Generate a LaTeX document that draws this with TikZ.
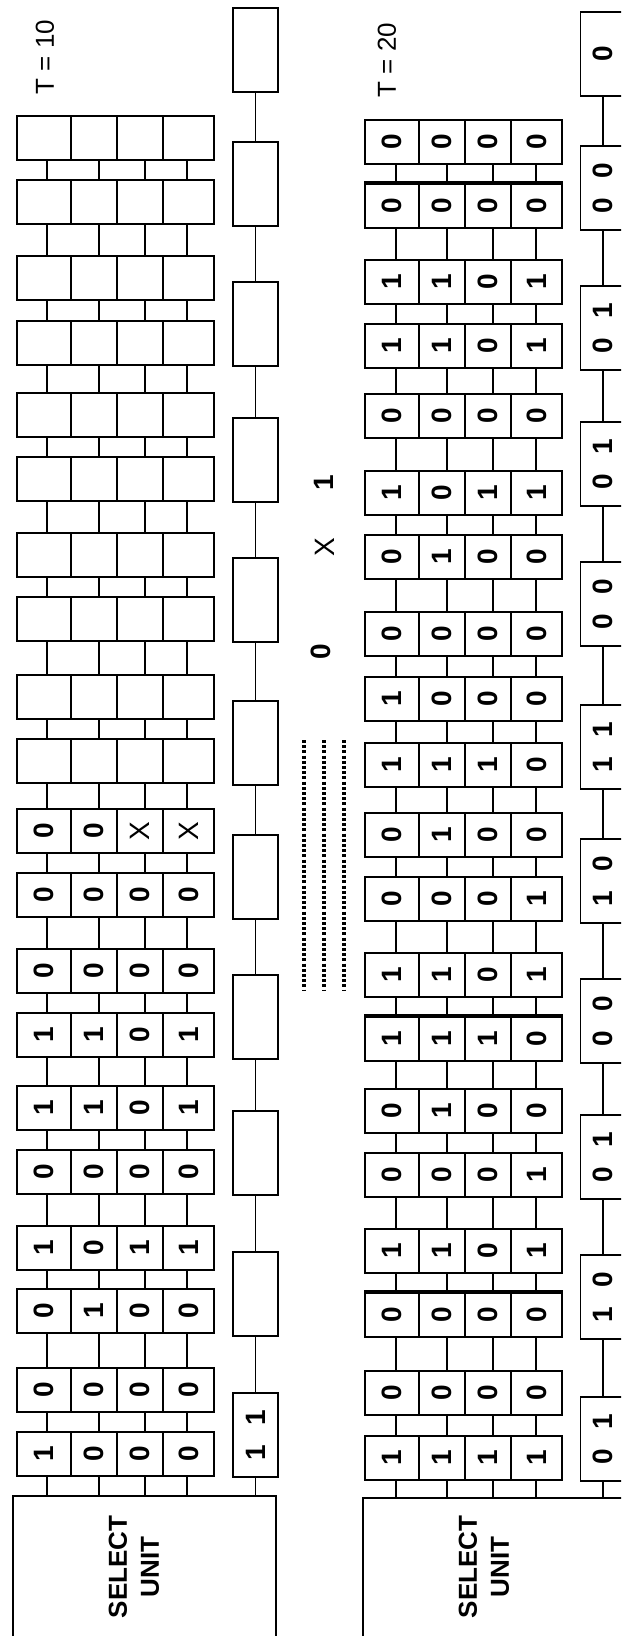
\documentclass[tikz,border=0pt]{standalone}
\usepackage{fontspec}
\usepackage{graphicx}
\newfontfamily\arialfont{Liberation Sans}
\usetikzlibrary{calc}

% cell text: n = empty cell, X in normal weight
\newcommand{\bit}[1]{\if n#1\else\rotatebox{90}{\if X#1\mdseries\fi#1}\fi}

\tikzset{
    cell/.style={draw, line width=0.9pt, inner sep=0pt, minimum height=22pt,
        font=\arialfont\bfseries\fontsize{14}{14}\selectfont},
    busbox/.style={draw, line width=0.9pt, inner sep=0pt, minimum width=22.5pt, minimum height=42pt,
        font={\arialfont\bfseries\fontsize{14}{14}\selectfont\spaceskip=0.7em\relax}},
    unitbox/.style={draw, line width=0.9pt, minimum width=131.5pt, minimum height=100pt},
    unittext/.style={rotate=90, align=center, font=\arialfont\bfseries\fontsize{13}{16}\selectfont},
    tag/.style={rotate=90, inner sep=0pt, font=\arialfont\fontsize{13}{13}\selectfont},
    link/.style={line width=0.9pt},
    heavy/.style={line width=2.2pt},
    dotline/.style={line width=1.8pt, dash pattern=on 1.5pt off 1.1pt}
}

\begin{document}
\begin{tikzpicture}[x=0.5pt, y=-0.5pt]
    \useasboundingbox (0,0) rectangle (621,1636);
    \fill[white] (0,0) rectangle (621,1636);
    \clip (0,0) rectangle (621,1636);

    % ---------------- T = 10 ----------------
    \node[tag] (T10) at (45,57) {T = 10};

    % cell groups
    \foreach \gy/\row [count=\g] in {116/{n,n,n,n}, 180/{n,n,n,n}, 256/{n,n,n,n}, 321/{n,n,n,n},
        393/{n,n,n,n}, 457/{n,n,n,n}, 533/{n,n,n,n}, 597/{n,n,n,n}, 675/{n,n,n,n}, 739/{n,n,n,n},
        809/{0,0,X,X}, 873/{0,0,0,0}, 949/{0,0,0,0}, 1013/{1,1,0,1}, 1086/{1,1,0,1},
        1150/{0,0,0,0}, 1226/{1,0,1,1}, 1289/{0,1,0,0}, 1368/{0,0,0,0}, 1432/{1,0,0,0}}
        \foreach \v [count=\c] in \row {
            \pgfmathsetmacro\cx{{44,94,140,188.5}[\c-1]}
            \pgfmathsetmacro\cw{{27,23,23,25.5}[\c-1]}
            \node[cell, minimum width=\cw pt] (L-\g-\c) at (\cx,\gy+22) {\bit{\v}};
        }
    \foreach \g [evaluate=\g as \gn using int(\g+1)] in {1,...,19}
        \foreach \c in {1,...,4} {
            \pgfmathsetmacro\dx{{1.5,2.5,2.5,-0.75}[\c-1]}
            \draw[link] ([xshift=\dx pt]L-\g-\c.south) -- ([xshift=\dx pt]L-\gn-\c.north);
        }

    % bus
    \foreach \by/\bv [count=\b] in {8/n, 142/n, 282/n, 418/n, 558/n, 701/n, 835/n, 975/n,
        1111/n, 1252/n, 1393/{1 1}}
        \node[busbox] (LB-\b) at (255.5,\by+42) {\bit{\bv}};
    \foreach \b [evaluate=\b as \bn using int(\b+1)] in {1,...,10}
        \draw[link] (LB-\b.south) -- (LB-\bn.north);

    % select unit
    \node[unitbox] (LU) at (144.5,1596) {};
    \node[unittext] (LUtext) at (134,1567) {SELECT\\UNIT};
    \foreach \c in {1,...,4} {
        \pgfmathsetmacro\dx{{1.5,2.5,2.5,-0.75}[\c-1]}
        \draw[link] ([xshift=\dx pt]L-20-\c.south) -- ([xshift=\dx pt]L-20-\c.south |- LU.north);
    }
    \draw[link] (LB-11.south) -- (LB-11.south |- LU.north);

    % ---------------- between ----------------
    \node[tag, font=\arialfont\bfseries\fontsize{14}{14}\selectfont] (mid1) at (324,483) {1};
    \node[tag, font=\arialfont\fontsize{14}{14}\selectfont] (midX) at (325,547) {X};
    \node[tag, font=\arialfont\bfseries\fontsize{14}{14}\selectfont] (mid0) at (321,652) {0};
    \foreach \dx in {304,324,344}
        \draw[dotline] (\dx,740) -- (\dx,991);

    % ---------------- T = 20 ----------------
    \node[tag] (T20) at (387,60) {T = 20};

    % cell groups
    \foreach \gy/\row [count=\g] in {120/{0,0,0,0}, 184/{0,0,0,0}, 260/{1,1,0,1}, 324/{1,1,0,1},
        394/{0,0,0,0}, 471/{1,0,1,1}, 535/{0,1,0,0}, 612/{0,0,0,0}, 677/{1,0,0,0}, 743/{1,1,1,0},
        813/{0,1,0,0}, 877/{0,0,0,1}, 953/{1,1,0,1}, 1017/{1,1,1,0}, 1089/{0,1,0,0},
        1153/{0,0,0,1}, 1229/{1,1,0,1}, 1293/{0,0,0,0}, 1371/{0,0,0,0}, 1436/{1,1,1,1}}
        \foreach \v [count=\c] in \row {
            \pgfmathsetmacro\cx{{392,442,488,536.5}[\c-1]}
            \pgfmathsetmacro\cw{{27,23,23,25.5}[\c-1]}
            \node[cell, minimum width=\cw pt] (R-\g-\c) at (\cx,\gy+22) {\bit{\v}};
        }
    \foreach \g [evaluate=\g as \gn using int(\g+1)] in {1,...,19}
        \foreach \c in {1,...,4} {
            \pgfmathsetmacro\dx{{2,2.5,2.5,-0.25}[\c-1]}
            \draw[link] ([xshift=\dx pt]R-\g-\c.south) -- ([xshift=\dx pt]R-\gn-\c.north);
        }

    % heavy borders
    \foreach \g in {2,14,18}
        \draw[heavy] (R-\g-1.north west) -- (R-\g-4.north east);

    % bus
    \foreach \by/\bv [count=\b] in {12/0, 146/{0 0}, 286/{0 1}, 422/{0 1}, 562/{0 0}, 705/{1 1},
        839/{1 0}, 979/{0 0}, 1115/{0 1}, 1255/{1 0}, 1397/{0 1}}
        \node[busbox] (RB-\b) at (603,\by+42) {\bit{\bv}};
    \foreach \b [evaluate=\b as \bn using int(\b+1)] in {1,...,10}
        \draw[link] (RB-\b.south) -- (RB-\bn.north);

    % select unit
    \node[unitbox] (RU) at (494.5,1598) {};
    \node[unittext] (RUtext) at (484,1567) {SELECT\\UNIT};
    \foreach \c in {1,...,4} {
        \pgfmathsetmacro\dx{{2,2.5,2.5,-0.25}[\c-1]}
        \draw[link] ([xshift=\dx pt]R-20-\c.south) -- ([xshift=\dx pt]R-20-\c.south |- RU.north);
    }
    \draw[link] (RB-11.south) -- (RB-11.south |- RU.north);
\end{tikzpicture}
\end{document}
